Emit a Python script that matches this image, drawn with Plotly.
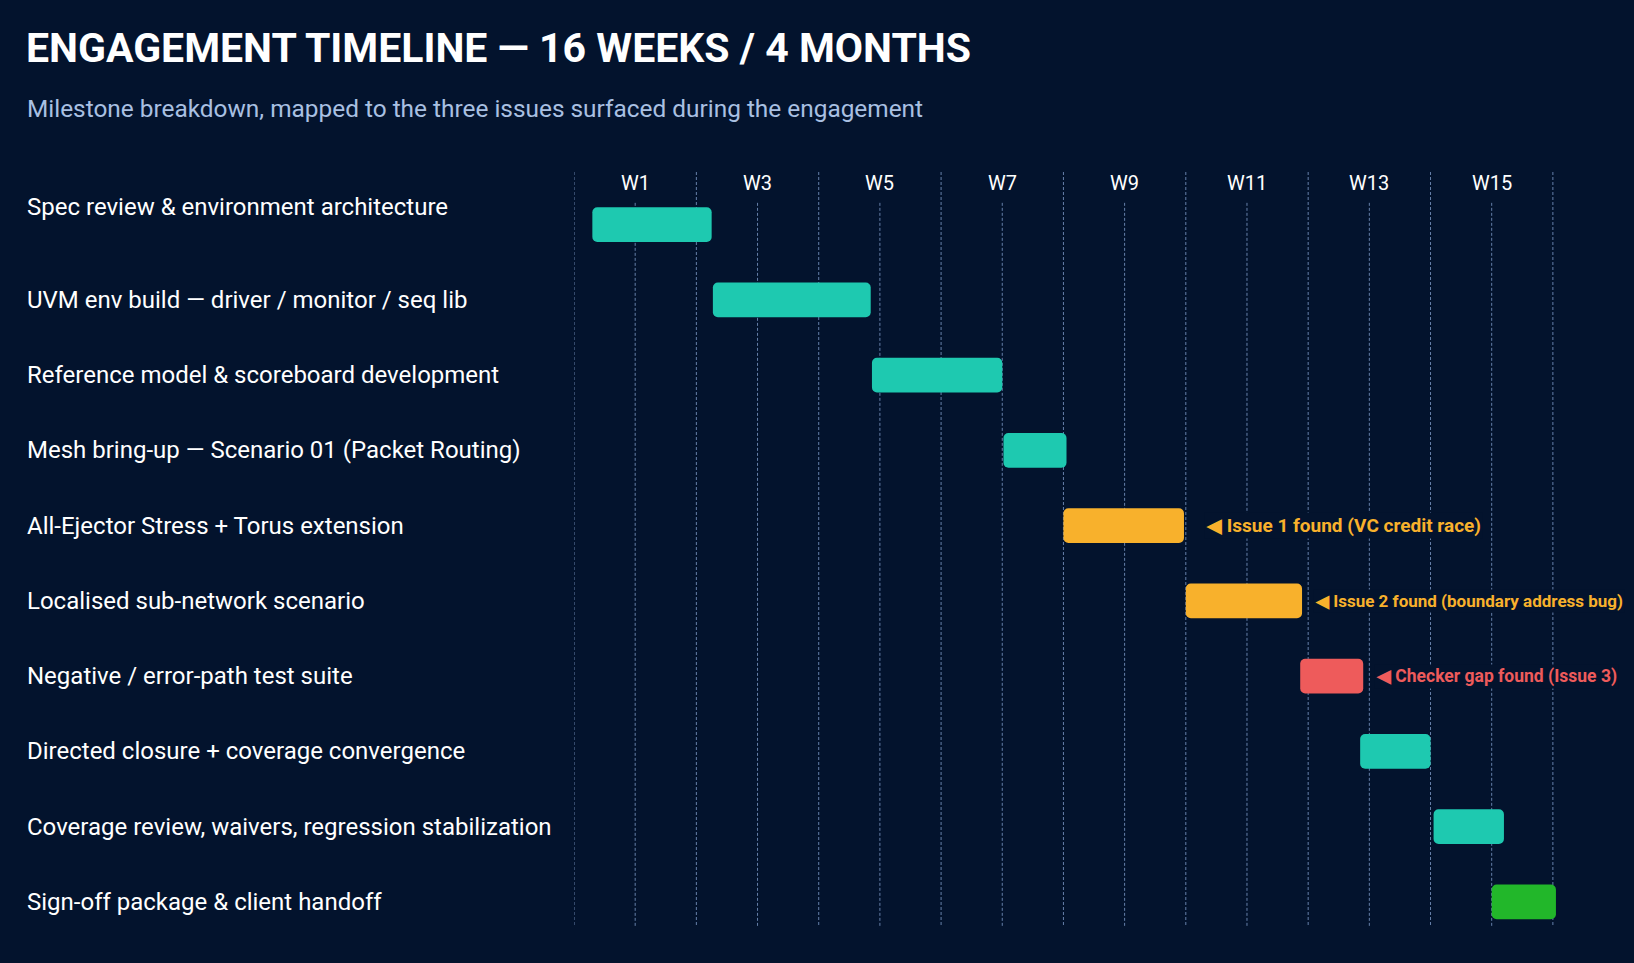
import plotly.graph_objects as go

# milestones, top to bottom
tasks = [
    "Spec review & environment architecture",
    "UVM env build — driver / monitor / seq lib",
    "Reference model & scoreboard development",
    "Mesh bring-up — Scenario 01 (Packet Routing)",
    "All-Ejector Stress + Torus extension",
    "Localised sub-network scenario",
    "Negative / error-path test suite",
    "Directed closure + coverage convergence",
    "Coverage review, waivers, regression stabilization",
    "Sign-off package & client handoff",
]
start_wk = [0.3, 2.27, 4.87, 7.02, 8.0, 10.0, 11.87, 12.85, 14.05, 15.0]
end_wk = [2.25, 4.85, 7.0, 8.05, 9.97, 11.9, 12.9, 14.0, 15.2, 16.05]
kind = ["work", "work", "work", "work", "issue", "issue", "gap", "work", "work", "signoff"]

notes = {
    4: "◀ Issue 1 found (VC credit race)",
    5: "◀ Issue 2 found (boundary address bug)",
    6: "◀ Checker gap found (Issue 3)",
}
# font size / gap from bar end for each note
note_style = {4: (19, 20), 5: (17, 11), 6: (17.5, 11)}

week_labels = ["W1", "W3", "W5", "W7", "W9", "W11", "W13", "W15"]
week_pos = [1, 3, 5, 7, 9, 11, 13, 15]
total_weeks = 16

colours = {
    "work": "#1ec9b0",
    "issue": "#f8b12c",
    "gap": "#ee5b5b",
    "signoff": "#22b72a",
}
bg = "#03132d"
grid = "#6680aa"
font = "Roboto"

fig = go.Figure()

fig.add_trace(go.Bar(
    y=list(range(len(tasks))),
    x=[e - s for s, e in zip(start_wk, end_wk)],
    base=start_wk,
    orientation="h",
    width=0.46,
    marker=dict(color=[colours[k] for k in kind], line=dict(width=0)),
    hovertext=tasks,
    hoverinfo="text",
))

# week grid: even weeks run full height, odd weeks start under the label
top, bottom = -0.7, 9.32
for w in range(total_weeks + 1):
    fig.add_shape(
        type="line", xref="x", yref="y",
        x0=w, x1=w, y0=top if w % 2 == 0 else -0.29, y1=bottom,
        line=dict(color=grid, width=1, dash="3px,2px"),
        layer="below",
    )

for lbl, pos in zip(week_labels, week_pos):
    fig.add_annotation(
        x=pos, y=-0.55, xref="x", yref="y", text=lbl, showarrow=False,
        font=dict(family=font, size=20, color="#ffffff"),
    )

# row labels on the left
for i, t in enumerate(tasks):
    fig.add_annotation(
        x=0, y=i, xref="paper", yref="y", text=t, showarrow=False,
        xanchor="left", xshift=-549, yshift=18 if i == 0 else 0,
        font=dict(family=font, size=24, color="#ffffff"),
    )

for i, txt in notes.items():
    size, gap = note_style[i]
    fig.add_annotation(
        x=end_wk[i], y=i, xref="x", yref="y", text="<b>" + txt + "</b>",
        showarrow=False, xanchor="left", xshift=gap, bgcolor=bg,
        font=dict(family=font, size=size, color=colours[kind[i]]),
    )

fig.add_annotation(
    x=0, y=1.084, xref="paper", yref="paper", xanchor="left", yanchor="middle",
    xshift=-549,
    text="Milestone breakdown, mapped to the three issues surfaced during the engagement",
    showarrow=False, font=dict(family=font, size=24.4, color="#a9c0e2"),
)

fig.update_layout(
    width=1634, height=963,
    paper_bgcolor=bg, plot_bgcolor=bg,
    margin=dict(l=574, r=75, t=172, b=37),
    title=dict(
        text="<b>ENGAGEMENT TIMELINE — 16 WEEKS / 4 MONTHS</b>",
        x=26 / 1634, xanchor="left", y=1 - 48 / 963, yanchor="middle",
        font=dict(family=font, size=41, color="#ffffff"),
    ),
    xaxis=dict(range=[0, 16.1], showgrid=False, zeroline=False,
               showticklabels=False, fixedrange=True),
    yaxis=dict(range=[bottom, top], showgrid=False, zeroline=False,
               showticklabels=False, fixedrange=True),
    barcornerradius=5,
    showlegend=False,
)

fig.write_html("out.html", config={"displayModeBar": False},
               post_script="document.body.style.margin = '0';")
